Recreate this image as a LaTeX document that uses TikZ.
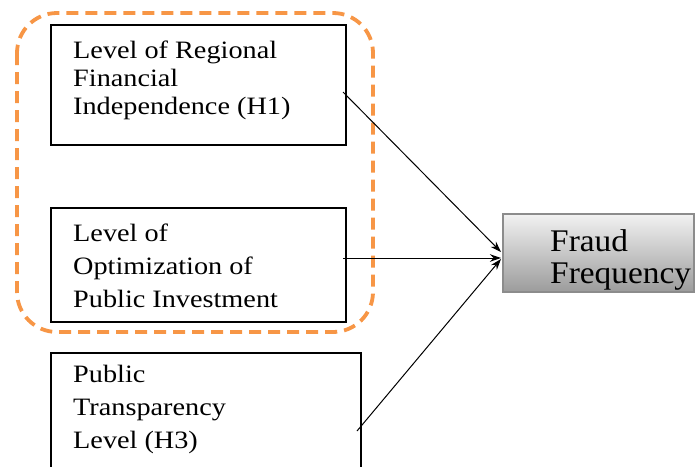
\documentclass[tikz,border=0pt]{standalone}
\usepackage{fontspec}
\setmainfont{Liberation Serif}[FakeStretch=1.13]
\newfontfamily\fraudfont{Liberation Serif}[FakeStretch=1.06]
\usetikzlibrary{arrows.meta}
\definecolor{dashorange}{HTML}{F79646}
\definecolor{gtop}{HTML}{F2F2F2}
\definecolor{gbot}{HTML}{9C9C9C}
\definecolor{gborder}{HTML}{8C8C8C}
\begin{document}
\begin{tikzpicture}[x=1pt,y=-1pt,
  varbox/.style={draw=black,line width=1.6pt,inner sep=0pt,anchor=north west},
  boxtext/.style={inner sep=0pt,anchor=base west,align=left,text=black},
  conn/.style={line width=1pt,-{Stealth[length=11pt,width=7.5pt]}}]
\useasboundingbox (0,0) rectangle (695,466);
\clip (0,0) rectangle (695,466);
\draw[dashorange,line width=3.8pt,dash pattern=on 12pt off 7pt,rounded corners=40pt] (17,13) rectangle (373,332);
\node[varbox,minimum width=295pt,minimum height=120pt] (b1) at (50,24) {};
\node[varbox,minimum width=295pt,minimum height=114pt] (b2) at (50,207) {};
\node[varbox,minimum width=310pt,minimum height=130pt] (b3) at (50,352) {};
\node[draw=gborder,line width=1.5pt,top color=gtop,bottom color=gbot,inner sep=0pt,anchor=north west,minimum width=191pt,minimum height=78pt] (ff) at (502,213) {};
\node[boxtext,font=\fontsize{25}{28}\selectfont] (t1) at (73,114) {Level of Regional\\Financial\\Independence (H1)};
\node[boxtext,font=\fontsize{25}{33}\selectfont] (t2) at (73,307) {Level of\\Optimization of\\Public Investment};
\node[boxtext,font=\fontsize{25}{33}\selectfont] (t3) at (73,448) {Public\\Transparency\\Level (H3)};
\node[boxtext,font=\fraudfont\fontsize{31.5}{32}\selectfont] (t4) at (550,283) {Fraud\\Frequency};
\coordinate (s1) at (343,92);
\coordinate (s2) at (343,258);
\coordinate (s3) at (357,431);
\coordinate (e1) at (501,252);
\coordinate (e2) at (501,258);
\coordinate (e3) at (501,259);
\draw[conn] (s1) -- (e1);
\draw[conn] (s2) -- (e2);
\draw[conn] (s3) -- (e3);
\end{tikzpicture}
\end{document}
